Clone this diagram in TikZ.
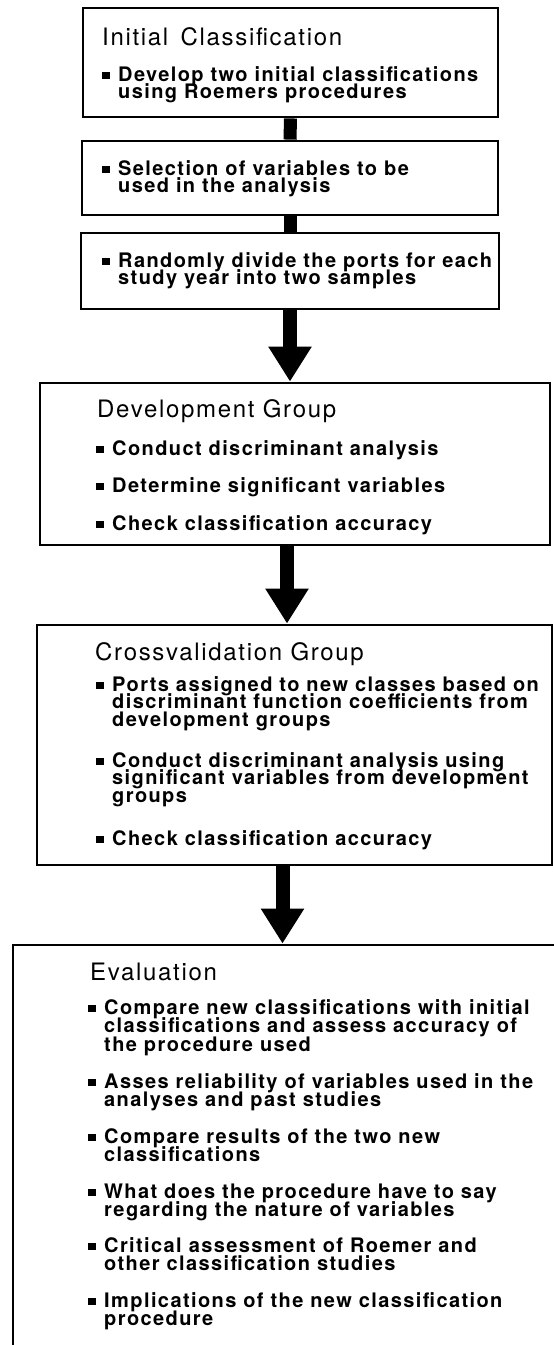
\documentclass[tikz,border=0pt]{standalone}
\usepackage{fontspec}
\setmainfont[LetterSpace=7]{TeX Gyre Heros}
\usetikzlibrary{arrows.meta}

\newcommand{\sqbul}{\makebox[16pt][l]{\rule[2.5pt]{8pt}{7pt}}}
\newcommand{\blines}[1]{\vtop{\lineskiplimit=-\maxdimen\let\\\cr\halign{##\hfil\cr#1\crcr}}}

\tikzset{
  stage/.style={draw, line width=2.8pt, inner sep=0pt},
  headtext/.style={font=\fontsize{24}{26}\selectfont, anchor=base west, inner sep=0pt},
  bulletitem/.style={font=\fontsize{20}{#1}\selectfont\bfseries, anchor=base west, inner sep=0pt},
  bulletitem/.default=17.5,
  bar/.style={line width=13pt},
  bigarrow/.style={line width=14pt, -{Triangle[width=41pt,length=35pt]}}
}

\begin{document}
\begin{tikzpicture}[x=1pt,y=-1pt]
\useasboundingbox (0,0) rectangle (554,1345);
\clip (0,0) rectangle (554,1345);

% the stage boxes
\node[stage, minimum width=415pt, minimum height=109pt] (init) at (290.5,62.5) {};
\node[stage, minimum width=416pt, minimum height=74pt] (select) at (290,178) {};
\node[stage, minimum width=418pt, minimum height=76pt] (divide) at (290,271) {};
\node[stage, minimum width=510pt, minimum height=162pt] (dev) at (295,464) {};
\node[stage, minimum width=515pt, minimum height=240pt] (cross) at (294.5,745) {};
\node[stage, minimum width=587pt, minimum height=455pt] (eval) at (306.5,1172.5) {};

% connectors
\draw[bar] (init.south) -- (select.north);
\draw[bar] (select.south) -- (select.south |- divide.north);
\draw[bigarrow] (divide.south) -- (divide.south |- dev.north);
\draw[bigarrow] ([xshift=-8pt]dev.south) -- ([xshift=-8pt]dev.south |- cross.north);
\draw[bigarrow] ([xshift=-12pt]cross.south) -- ([xshift=-12pt]cross.south |- eval.north);

% initial classification
\node[headtext] (inithead) at (102,45) {Initial\, Classification};
\node[bulletitem] (init1) at (102,81) {\sqbul\blines{Develop two initial classifications\\using Roemers procedures}};
\node[bulletitem] (select1) at (102,175) {\sqbul\blines{Selection of variables to be\\used in the analysis}};
\node[bulletitem] (divide1) at (102,267) {\sqbul\blines{Randomly divide the ports for each\\study year into two samples}};

% development group
\node[headtext] (devhead) at (97,417) {Development Group};
\node[bulletitem] (dev1) at (96,455) {\sqbul Conduct discriminant analysis};
\node[bulletitem] (dev2) at (96,492) {\sqbul Determine significant variables};
\node[bulletitem] (dev3) at (96,530) {\sqbul Check classification accuracy};

% crossvalidation group
\node[headtext] (crosshead) at (95,660) {Crossvalidation Group};
\node[bulletitem] (cross1) at (96,691) {\sqbul\blines{Ports assigned to new classes based on\\discriminant function coefficients from\\development groups}};
\node[bulletitem] (cross2) at (96,767) {\sqbul\blines{Conduct discriminant analysis using\\significant variables from development\\groups}};
\node[bulletitem] (cross3) at (96,845) {\sqbul Check classification accuracy};

% evaluation
\node[headtext] (evalhead) at (90,980) {Evaluation};
\node[bulletitem=18.5] (eval1) at (88,1014) {\sqbul\blines{Compare new classifications with initial\\classifications and assess accuracy of\\the procedure used}};
\node[bulletitem=18.5] (eval2) at (88,1088) {\sqbul\blines{Asses reliability of variables used in the\\analyses and past studies}};
\node[bulletitem=18.5] (eval3) at (88,1143) {\sqbul\blines{Compare results of the two new\\classifications}};
\node[bulletitem=18.5] (eval4) at (88,1198) {\sqbul\blines{What does the procedure have to say\\regarding the nature of variables}};
\node[bulletitem=18.5] (eval5) at (88,1252) {\sqbul\blines{Critical assessment of Roemer and\\other classification studies}};
\node[bulletitem=18.5] (eval6) at (88,1307) {\sqbul\blines{Implications of the new classification\\procedure}};
\end{tikzpicture}
\end{document}
